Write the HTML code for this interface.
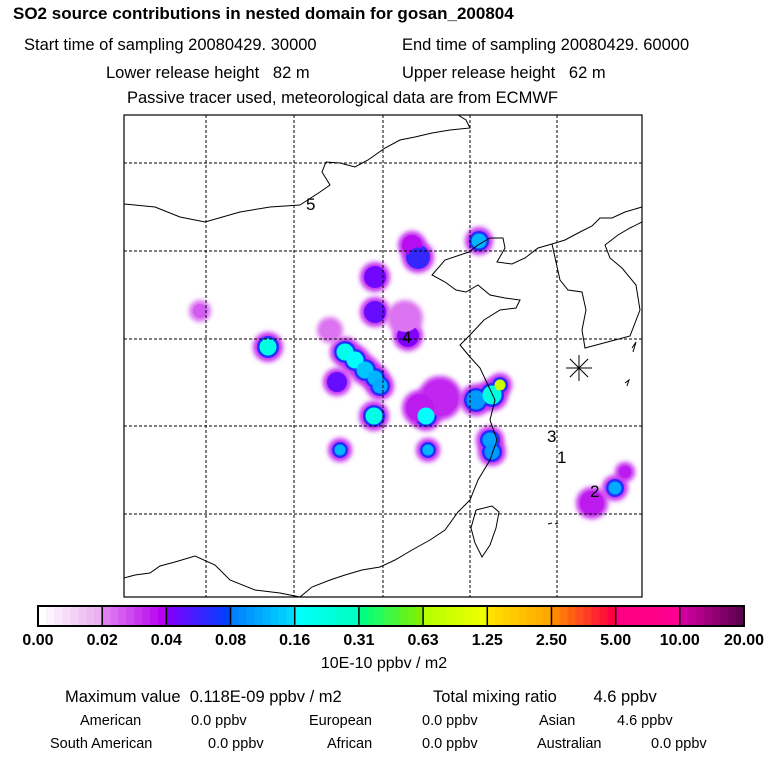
<!DOCTYPE html>
<html><head><meta charset="utf-8"><style>
body{margin:0;background:#fff;width:768px;height:768px;overflow:hidden;font-family:"Liberation Sans",sans-serif}
svg text{font-family:"Liberation Sans",sans-serif;white-space:pre}
</style></head><body>
<svg id="s" width="768" height="768" xmlns="http://www.w3.org/2000/svg">
<defs><filter id="bl" x="-50%" y="-50%" width="200%" height="200%"><feGaussianBlur stdDeviation="2.5"/></filter>
<clipPath id="mc"><rect x="124" y="115" width="518" height="482"/></clipPath></defs>
<text x="13" y="19" font-size="17" font-weight="bold">SO2 source contributions in nested domain for gosan_200804</text>
<text x="24" y="50" font-size="16.5">Start time of sampling 20080429. 30000</text>
<text x="402" y="50" font-size="16.5">End time of sampling 20080429. 60000</text>
<text x="106" y="78" font-size="16.5">Lower release height   82 m</text>
<text x="402" y="78" font-size="16.5">Upper release height   62 m</text>
<text x="127" y="103" font-size="16.5">Passive tracer used, meteorological data are from ECMWF</text>
<g id="plumes" clip-path="url(#mc)"></g>
<g id="grid"></g>
<g id="coast" fill="none" stroke="#000" stroke-width="1" clip-path="url(#mc)"></g>
<rect x="124" y="115" width="518" height="482" fill="none" stroke="#000" stroke-width="1.2"/>
<g id="marks"></g>
<g id="cbar"></g>
<text x="384" y="668" font-size="16" text-anchor="middle">10E-10 ppbv / m2</text>
<text x="65" y="702" font-size="16.5">Maximum value  0.118E-09 ppbv / m2</text>
<text x="433" y="702" font-size="16.5">Total mixing ratio        4.6 ppbv</text>
<g font-size="14.5">
<text x="80" y="725">American</text><text x="191" y="725">0.0 ppbv</text>
<text x="309" y="725">European</text><text x="422" y="725">0.0 ppbv</text>
<text x="539" y="725">Asian</text><text x="617" y="725">4.6 ppbv</text>
<text x="50" y="748">South American</text><text x="208" y="748">0.0 ppbv</text>
<text x="327" y="748">African</text><text x="422" y="748">0.0 ppbv</text>
<text x="537" y="748">Australian</text><text x="651" y="748">0.0 ppbv</text>
</g>
</svg>
<script>
const NS="http://www.w3.org/2000/svg";
const tickLabels=["0.00","0.02","0.04","0.08","0.16","0.31","0.63","1.25","2.50","5.00","10.00","20.00"];
const segColors=[["#ffffff","#eab0f0"],["#e080f0","#b400f0"],["#8000ff","#0040ff"],["#0080ff","#00d8ff"],["#00ffff","#00ffc0"],["#00ff80","#80f000"],["#b8ff00","#f0ff00"],["#ffe000","#ffa800"],["#ff8800","#ff0040"],["#ff0080","#ff0090"],["#d000a0","#600050"]];
const srcX=[479,418,412,375,375,408,200,268,345,355,365,375,380,337,374,426,440,420,476,492,500,490,492,340,428,615,592,330,625,405];
const srcY=[241,257,245,277,312,336,311,347,352,360,370,378,386,382,416,416,398,408,400,395,385,440,452,450,450,488,503,330,472,318];
const srcR=[10,12,10,11,11,11,7,11,11,11,11,10,10,10,11,11,18,14,12,12,8,10,10,8,8,9,12,9,6,14];
const srcLevel=[3.6,2.6,1.9,2.1,2.2,2.0,1.3,4.5,4.3,4.0,3.8,3.6,3.5,2.2,4.4,4.0,1.7,1.8,3.3,4.5,6.3,3.4,3.3,3.6,3.6,3.5,1.8,1.1,1.8,1.1];
const gridX=[206,294,383,470,557];
const gridY=[163,251,339,426,514];
const cbX0=38,cbX1=744,cbY=606,cbH=20;
function mk(t,a,p){const e=document.createElementNS(NS,t);for(const k in a)e.setAttribute(k,a[k]);(p||document.getElementById('s')).appendChild(e);return e;}
function hx(c){return [1,3,5].map(i=>parseInt(c.substr(i,2),16));}
function lerp(a,b,t){const A=hx(a),B=hx(b);return 'rgb('+A.map((v,i)=>Math.round(v+(B[i]-v)*t)).join(',')+')';}
function lvlColor(l){const i=Math.min(10,Math.floor(l));const f=l-i;return lerp(segColors[i][0],segColors[i][1],f);}
const g=document.getElementById('grid');
gridX.forEach(x=>{const e=mk('line',{x1:x,y1:115,x2:x,y2:597,stroke:'#000','stroke-dasharray':'3,2','stroke-width':1},g);
});
gridY.forEach(y=>{const e=mk('line',{x1:124,y1:y,x2:642,y2:y,stroke:'#000','stroke-dasharray':'3,2','stroke-width':1},g);
});
const pg=document.getElementById('plumes');
srcX.forEach((x,i)=>{const y=srcY[i],r=srcR[i],l=srcLevel[i];
const outer=mk('circle',{cx:x,cy:y,r:r+4,fill:lvlColor(l<1.5?1.1:1.6),filter:'url(#bl)'},pg);
});
srcX.forEach((x,i)=>{const y=srcY[i],r=srcR[i],l=srcLevel[i];
const m=mk('circle',{cx:x,cy:y,r:r,fill:lvlColor(l>=2?Math.min(l,2.7):l)},pg);
});
srcX.forEach((x,i)=>{const y=srcY[i],r=srcR[i],l=srcLevel[i];
if(l>=2.5){const c=mk('circle',{cx:x,cy:y,r:Math.max(3,r-2.5),fill:lvlColor(l)},pg);
}});
const lines=[
"124,204 155,207 180,217 205,222 240,212 270,207 300,205 320,192 330,185 322,172 326,162 340,163 355,167 368,160 385,148 400,140 415,137 432,133 450,130 470,128 466,120 458,115",
"469,252 445,260 432,275 445,282 456,290 466,292 478,285 490,295 505,298 520,300 516,308 500,310 484,320 470,335 460,345 470,357 480,368 488,385 495,400 490,420 497,440 490,460 478,480 470,500 458,512 445,530 430,540 412,550 395,560 380,567 362,570 345,575 330,580 312,587 300,597",
"469,252 478,245 490,238 503,238 505,248 497,262 512,264 525,258 538,248 552,244",
"552,244 565,240 580,232 592,226 600,218 612,218 625,212 642,207",
"552,244 556,262 560,280 568,290 582,292 586,310 582,330 585,348 600,344 615,340 630,336 640,310 636,285 622,268 610,258 605,245 618,235 630,228 642,222",
"476,510 492,506 499,512 496,528 490,545 482,557 475,543 471,528 476,510",
"124,578 135,575 150,573 160,566 175,562 195,556 215,565 230,580 255,590 280,593 300,597",
"632,348 636,342 633,352","625,383 629,380 627,386","548,524 552,523","555,524 558,523"];
const cg=document.getElementById('coast');
lines.forEach(p=>{const e=mk('polyline',{points:p},cg);});
const mg=document.getElementById('marks');
const labs=[["5",306,210],["4",402,343],["3",547,442],["1",557,463],["2",590,497]];
labs.forEach(a=>{const e=mk('text',{x:a[1],y:a[2],'font-size':17},mg);e.textContent=a[0];});
[[0,1],[1,0],[0.7,0.7],[0.7,-0.7]].forEach(d=>{const e=mk('line',{x1:579-13*d[0],y1:368-13*d[1],x2:579+13*d[0],y2:368+13*d[1],stroke:'#000'},mg);});
const cb=document.getElementById('cbar');const sw=(cbX1-cbX0)/segColors.length;
segColors.forEach((c,i)=>{for(let k=0;k<8;k++){const e=mk('rect',{x:cbX0+i*sw+k*sw/8,y:cbY,width:sw/8+0.5,height:cbH,fill:lerp(c[0],c[1],k/7)},cb);
}
if(i>0){const l=mk('line',{x1:cbX0+i*sw,y1:cbY,x2:cbX0+i*sw,y2:cbY+cbH,stroke:'#000','stroke-width':1.5},cb);}});
const fr=mk('rect',{x:cbX0,y:cbY,width:cbX1-cbX0,height:cbH,fill:'none',stroke:'#000','stroke-width':2},cb);

tickLabels.forEach((t,i)=>{const e=mk('text',{x:cbX0+i*sw,y:645,'font-size':16,'font-weight':'bold','text-anchor':'middle'},cb);e.textContent=t;
});
</script>
</body></html>
